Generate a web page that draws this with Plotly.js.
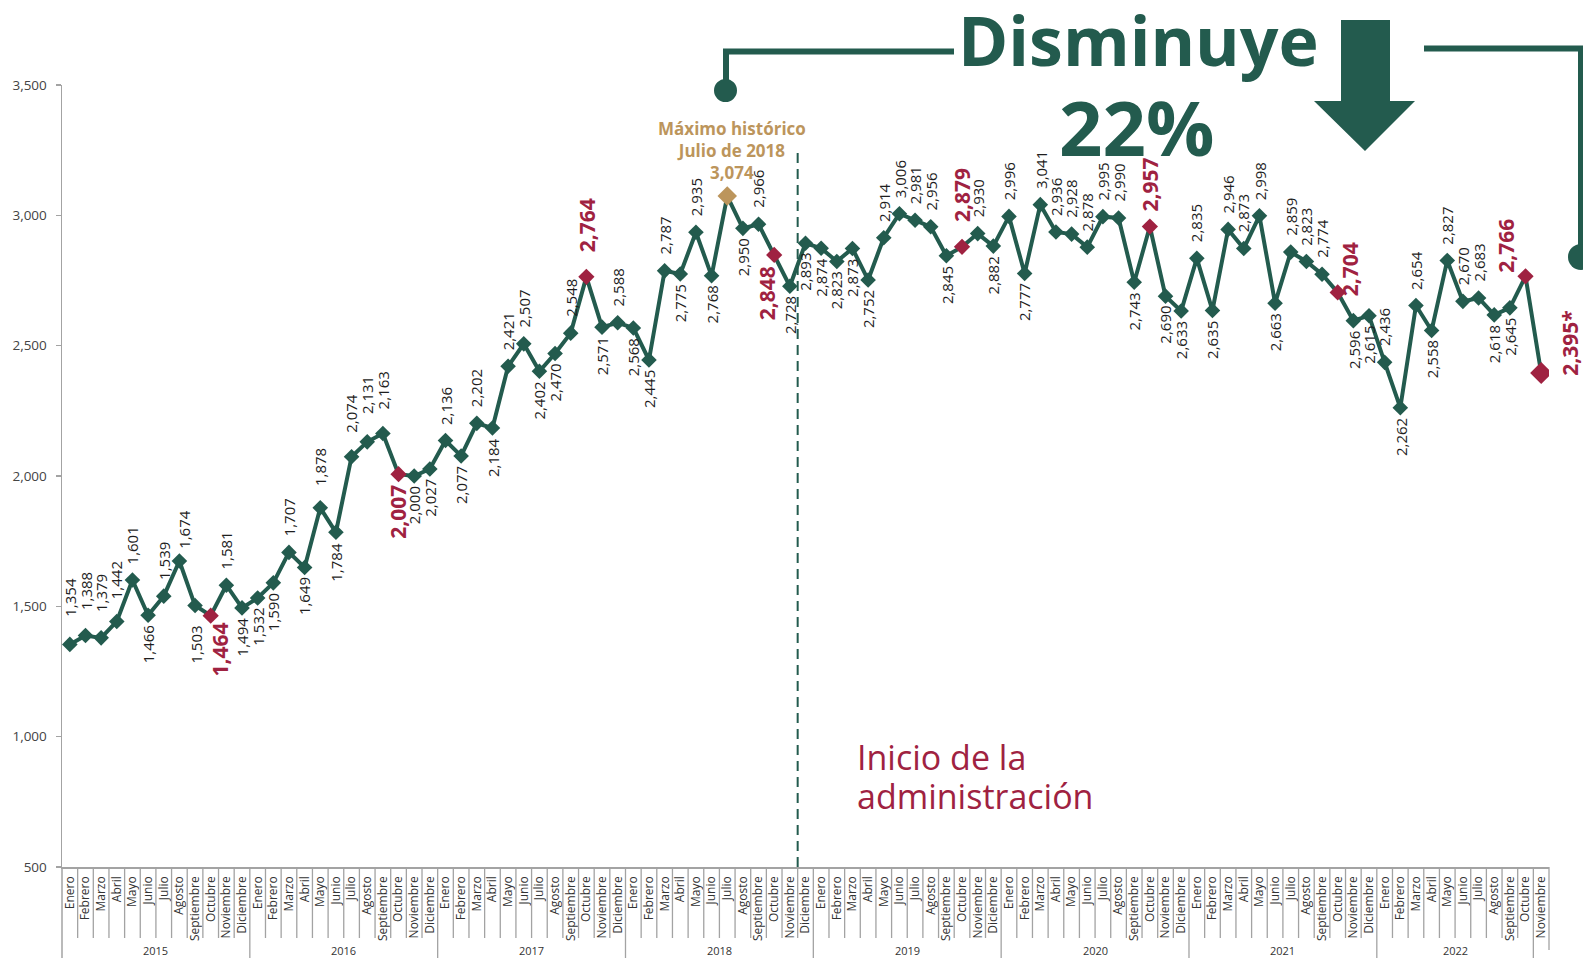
<!DOCTYPE html>
<html><head><meta charset="utf-8">
<script src="https://cdn.plot.ly/plotly-3.0.1.min.js"></script>
<style>html,body{margin:0;padding:0;background:#fff;}#chart{width:1583px;height:958px;}</style>
</head><body><div id="chart"></div>
<script>
// ---------------- DATA ----------------
const months = ['Enero','Febrero','Marzo','Abril','Mayo','Junio','Julio','Agosto','Septiembre','Octubre','Noviembre','Diciembre'];
const years = ['2015','2016','2017','2018','2019','2020','2021','2022'];
const v2015 = [1354,1388,1379,1442,1601,1466,1539,1674,1503,1464,1581,1494];
const v2016 = [1532,1590,1707,1649,1878,1784,2074,2131,2163,2007,2000,2027];
const v2017 = [2136,2077,2202,2184,2421,2507,2402,2470,2548,2764,2571,2588];
const v2018 = [2568,2445,2787,2775,2935,2768,3074,2950,2966,2848,2728,2893];
const v2019 = [2874,2823,2873,2752,2914,3006,2981,2956,2845,2879,2930,2882];
const v2020 = [2996,2777,3041,2936,2928,2878,2995,2990,2743,2957,2690,2633];
const v2021 = [2835,2635,2946,2873,2998,2663,2859,2823,2774,2704,2596,2615];
const v2022 = [2436,2262,2654,2558,2827,2670,2683,2618,2645,2766,2395];
// label side: a = above, b = below, g = gold note, r = right
const pos2015 = 'aaaaabaabbab', pos2016 = 'bbababaaabbb', pos2017 = 'ababaabbaaba', pos2018 = 'bbababgbabbb';
const pos2019 = 'bbbbaaaabaab', pos2020 = 'abaaaaaababb', pos2021 = 'abaaabaaaabb', pos2022 = 'ababaaabbar';
const redIdx = [9,21,33,45,57,69,81,93,94];   // octubres + cifra preliminar
const goldIdx = [42];                          // máximo histórico
const yTicks = [500,1000,1500,2000,2500,3000,3500];
const adminStart = 46.5;                       // inicio de la administración (dic 2018)
const maxNote = ['Máximo histórico','Julio de 2018'];
const headline = ['Disminuye','22%'];
const adminNote = ['Inicio de la','administración'];
const prelimMark = '*';

// ---------------- BUILD ----------------
const values = [].concat(v2015,v2016,v2017,v2018,v2019,v2020,v2021,v2022);
const posAll = (pos2015+pos2016+pos2017+pos2018+pos2019+pos2020+pos2021+pos2022).split('');
const n = values.length;
const xs = values.map((_,i)=>i);
const monthText = values.map((_,i)=>months[i%12]);
const fmt = v => String(v).replace(/\B(?=(\d{3})+(?!\d))/g, ',');

const GREEN = '#235B4E', RED = '#9F2241', GOLD = '#BC955C', GRAY = '#A3A3A3', TXT = '#1E1E1E';
const FONT = 'Open Sans, sans-serif';

// geometry of the plot (pixels)
const L = 62, T = 85, W = 1487, H = 782, FW = 1583, FH = 958;
const X = px => (px - L) / W;         // pixel -> paper x
const Y = py => (T + H - py) / H;     // pixel -> paper y
const xmin = -0.5, xmax = n - 0.5;
const XP = v => (v - xmin) / (xmax - xmin); // data x -> paper x

const colors = values.map((_,i)=> goldIdx.includes(i) ? GOLD : (redIdx.includes(i) ? RED : GREEN));
const sizes = values.map((_,i)=> i===n-1 ? 17 : goldIdx.includes(i) ? 15 : redIdx.includes(i) ? 12.5 : 12);

const trace = {
  x: xs, y: values, type: 'scatter', mode: 'lines+markers',
  line: {color: GREEN, width: 4},
  marker: {symbol: 'diamond', size: sizes, color: colors, opacity: 1, line: {width: 0}},
  hoverinfo: 'skip'
};

// per-point label tweaks (pixels)
const tweak = {0:{dy:12}, 1:{dy:10}, 2:{dy:10}, 3:{dy:6}, 7:{dx:5,dy:-4}, 8:{dy:10}, 9:{dx:9,dy:-4},
  16:{dy:6}, 18:{dy:8}, 19:{dy:12}, 20:{dy:8}, 33:{dy:10}, 45:{dx:-7}, 57:{dy:10},
  81:{dx:13,dy:-19}, 93:{dx:-19,dy:-12}};

const annotations = [];
values.forEach((v,i)=>{
  const p = posAll[i];
  if (p === 'g') {
    annotations.push({x:i, y:v, xref:'x', yref:'y', text:'<b>'+maxNote[0]+'<br>'+maxNote[1]+'<br>'+fmt(v)+'</b>',
      showarrow:false, xanchor:'center', yanchor:'bottom', xshift:5, yshift:10,
      font:{family:FONT, size:17, color:GOLD}});
    return;
  }
  const red = redIdx.includes(i);
  const t = tweak[i] || {};
  const a = {x:i, y:v, xref:'x', yref:'y', showarrow:false, textangle:-90,
    text: red ? '<b>'+fmt(v)+(i===n-1?prelimMark:'')+'</b>' : fmt(v),
    font:{family:FONT, size: red?21:15, color: red?RED:TXT}, borderpad:0};
  if (p==='a') { a.xanchor='center'; a.yanchor='bottom'; a.yshift=(red?14:15)+(t.dy||0); a.xshift=t.dx||0; }
  else if (p==='b') { a.xanchor='center'; a.yanchor='top'; a.yshift=-(red?10:9)-(t.dy||0); a.xshift=t.dx||0; }
  else { a.xanchor='left'; a.yanchor='bottom'; a.xshift=13; a.yshift=-4; }
  annotations.push(a);
});

// year labels
years.forEach((yr,k)=>{
  const s = k*12; const e = Math.min(s+11, n-2);
  annotations.push({xref:'x', yref:'paper', x:(s+e)/2, y:Y(950), text:yr, showarrow:false,
    xanchor:'center', yanchor:'middle', font:{family:FONT, size:11, color:'#333'}});
});

// headline + notes (explicit box heights keep the text boxes from overlapping)
annotations.push({xref:'paper', yref:'paper', x:X(1138), y:Y(47), text:'<b>'+headline[0]+'</b>', showarrow:false,
  xanchor:'center', yanchor:'middle', height:78, valign:'bottom', font:{family:FONT, size:68, color:GREEN}});
annotations.push({xref:'paper', yref:'paper', x:X(1136), y:Y(126), text:'<b>'+headline[1]+'</b>', showarrow:false,
  xanchor:'center', yanchor:'middle', height:74, font:{family:FONT, size:76, color:GREEN}});
annotations.push({xref:'paper', yref:'paper', x:X(855), y:Y(757), text:adminNote[0], showarrow:false,
  xanchor:'left', yanchor:'middle', height:36, font:{family:FONT, size:34, color:RED}});
annotations.push({xref:'paper', yref:'paper', x:X(855), y:Y(796), text:adminNote[1], showarrow:false,
  xanchor:'left', yanchor:'middle', height:36, font:{family:FONT, size:34, color:RED}});

// shapes
const shapes = [];
// month & year separators
for (let i=1;i<=n;i++){
  const b = i-0.5;
  let bottom = 938;
  if (i%12===0 || i===n-1) bottom = FH;
  if (i===n) bottom = 950;
  shapes.push({type:'line', xref:'paper', yref:'paper', x0:XP(b), x1:XP(b), y0:0, y1:Y(bottom), line:{color:GRAY, width:1.3}});
}
// y-axis extension down
shapes.push({type:'line', xref:'paper', yref:'paper', x0:0, x1:0, y0:0, y1:Y(FH), line:{color:GRAY, width:1.5}});
// administration start dashed line
shapes.push({type:'line', xref:'x', yref:'paper', x0:adminStart, x1:adminStart, y0:0, y1:Y(150), layer:'below',
  line:{color:GREEN, width:2, dash:'10px,6px'}});
// left bracket
shapes.push({type:'path', xref:'paper', yref:'paper',
  path:`M ${X(954)} ${Y(51.5)} L ${X(726)} ${Y(51.5)} L ${X(726)} ${Y(90)}`, line:{color:GREEN, width:6}});
shapes.push({type:'circle', xref:'paper', yref:'paper', x0:X(714), x1:X(737), y0:Y(102), y1:Y(79), fillcolor:GREEN, line:{width:0}});
// right bracket
shapes.push({type:'path', xref:'paper', yref:'paper',
  path:`M ${X(1424)} ${Y(48.5)} L ${X(1581)} ${Y(48.5)} L ${X(1581)} ${Y(257)}`, line:{color:GREEN, width:6}});
shapes.push({type:'circle', xref:'paper', yref:'paper', x0:X(1568), x1:X(1594), y0:Y(270), y1:Y(244), fillcolor:GREEN, line:{width:0}});
// down arrow
shapes.push({type:'path', xref:'paper', yref:'paper',
  path:`M ${X(1341)} ${Y(20)} L ${X(1390)} ${Y(20)} L ${X(1390)} ${Y(101)} L ${X(1415)} ${Y(101)} L ${X(1365)} ${Y(151)} L ${X(1314)} ${Y(101)} L ${X(1341)} ${Y(101)} Z`,
  fillcolor:GREEN, line:{width:0}});

const layout = {
  width: FW, height: FH,
  margin: {l:L, t:T, r:FW-L-W, b:FH-T-H, pad:0},
  paper_bgcolor:'#fff', plot_bgcolor:'#fff',
  showlegend:false, hovermode:false,
  font:{family:FONT, color:'#333'},
  xaxis:{range:[xmin,xmax], tickmode:'array', tickvals:xs, ticktext:monthText, tickangle:-90,
    ticks:'', showgrid:false, zeroline:false, showline:true, linecolor:GRAY, linewidth:1.5,
    tickfont:{family:FONT, size:12, color:'#333'}, ticklabelstandoff:3, fixedrange:true},
  yaxis:{range:[500,3500], tickmode:'array', tickvals:yTicks, ticktext:yTicks.map(fmt),
    ticks:'outside', ticklen:5, tickcolor:GRAY, tickwidth:1.5, showgrid:false, zeroline:false,
    showline:true, linecolor:GRAY, linewidth:1.5, tickfont:{family:FONT, size:13.5, color:'#444'},
    ticklabelstandoff:6, fixedrange:true},
  annotations, shapes
};
Plotly.newPlot('chart', [trace], layout, {staticPlot:true, displayModeBar:false});
</script></body></html>
